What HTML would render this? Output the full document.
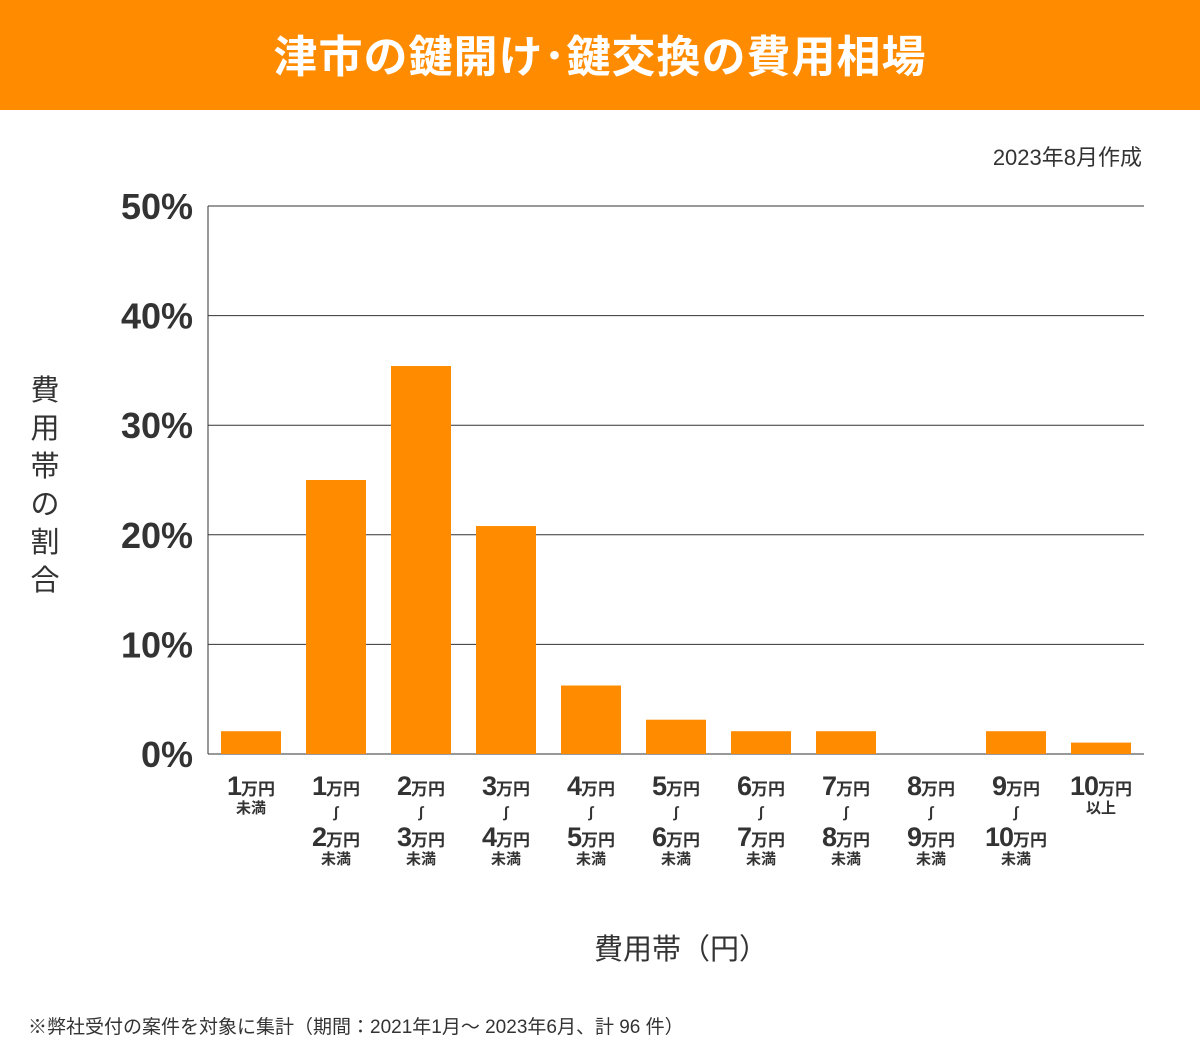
<!DOCTYPE html>
<html><head><meta charset="utf-8">
<style>
body{margin:0;width:1200px;height:1041px;background:#fff;font-family:"Liberation Sans","Noto Sans CJK JP",sans-serif;position:relative;overflow:hidden;color:#333}
#hdr{position:absolute;left:0;top:0;width:1200px;height:110px;background:#ff8c00;color:#fff;font-size:44px;font-weight:bold;text-align:center;line-height:116px;letter-spacing:1px}
</style></head><body>
<div id="hdr">津市の鍵開け･鍵交換の費用相場</div>
<svg id="chart" width="1200" height="1041" style="position:absolute;left:0;top:0"></svg>
<script>
const categories=[["1","","未満"],["1","2","未満"],["2","3","未満"],["3","4","未満"],["4","5","未満"],["5","6","未満"],["6","7","未満"],["7","8","未満"],["8","9","未満"],["9","10","未満"],["10","","以上"]];
const values=[2.08,25.0,35.4,20.8,6.25,3.13,2.08,2.08,0,2.08,1.04];
const yTicks=[0,10,20,30,40,50];
const tickLabels=["0%","10%","20%","30%","40%","50%"];
const svg=document.getElementById('chart');
const NS='http://www.w3.org/2000/svg';
const x0=208,x1=1144,y0=754,y1=206,yMax=50,step=85,bw=60,firstC=251;
const y=v=>y0-(v/yMax)*(y0-y1);
const xc=i=>firstC+i*step;
function mk(t,a,txt){const e=document.createElementNS(NS,t);for(const k in a)e.setAttribute(k,a[k]);if(txt!==undefined)e.textContent=txt;svg.appendChild(e);return e;}
yTicks.forEach((t,i)=>{
 const l=mk('line',{x1:x0,x2:x1,y1:y(t),y2:y(t),stroke:'#333','stroke-width':1});
 
 
 const tx=mk('text',{x:193,y:y(t)+13,'text-anchor':'end','font-size':36,'font-weight':'bold',fill:'#333'},tickLabels[i]);
 
 
});
const ax=mk('line',{x1:x0,x2:x0,y1:y1,y2:y0,stroke:'#333','stroke-width':1});


values.forEach((v,i)=>{
 const r=mk('rect',{x:xc(i)-bw/2,y:y(v),width:bw,height:y0-y(v),fill:'#ff8c00'});
 
 
});
categories.forEach((c,i)=>{
 const g=document.createElementNS(NS,'g');svg.appendChild(g);
 
 
 const cx=xc(i);
 const line=(n,yy)=>{const t=document.createElementNS(NS,'text');t.setAttribute('x',cx);t.setAttribute('y',yy);t.setAttribute('text-anchor','middle');t.setAttribute('font-weight','bold');t.setAttribute('fill','#333');t.innerHTML='<tspan font-size="27" letter-spacing="-1">'+n+'</tspan><tspan font-size="17">万円</tspan>';g.appendChild(t);};
 const small=(s,yy)=>{const t=document.createElementNS(NS,'text');t.setAttribute('x',cx);t.setAttribute('y',yy);t.setAttribute('text-anchor','middle');t.setAttribute('font-weight','bold');t.setAttribute('font-size','15');t.setAttribute('fill','#333');t.textContent=s;g.appendChild(t);};
 line(c[0],795);
 if(c[1]){small('∫',817);line(c[1],846);small(c[2],864);}else small(c[2],813);
});
</script>
<div style="position:absolute;right:58px;top:140px;font-size:22px">2023年8月作成</div>
<div style="position:absolute;left:28px;top:372px;width:34px;font-size:29px;line-height:38px;text-align:center">費<br>用<br>帯<br>の<br>割<br>合</div>
<div style="position:absolute;left:0;width:1362px;top:926px;text-align:center;font-size:29px">費用帯（円）</div>
<div style="position:absolute;left:28px;top:1012px;font-size:19px">※弊社受付の案件を対象に集計（期間：2021年1月～ 2023年6月、計 96 件）</div>
</body></html>
